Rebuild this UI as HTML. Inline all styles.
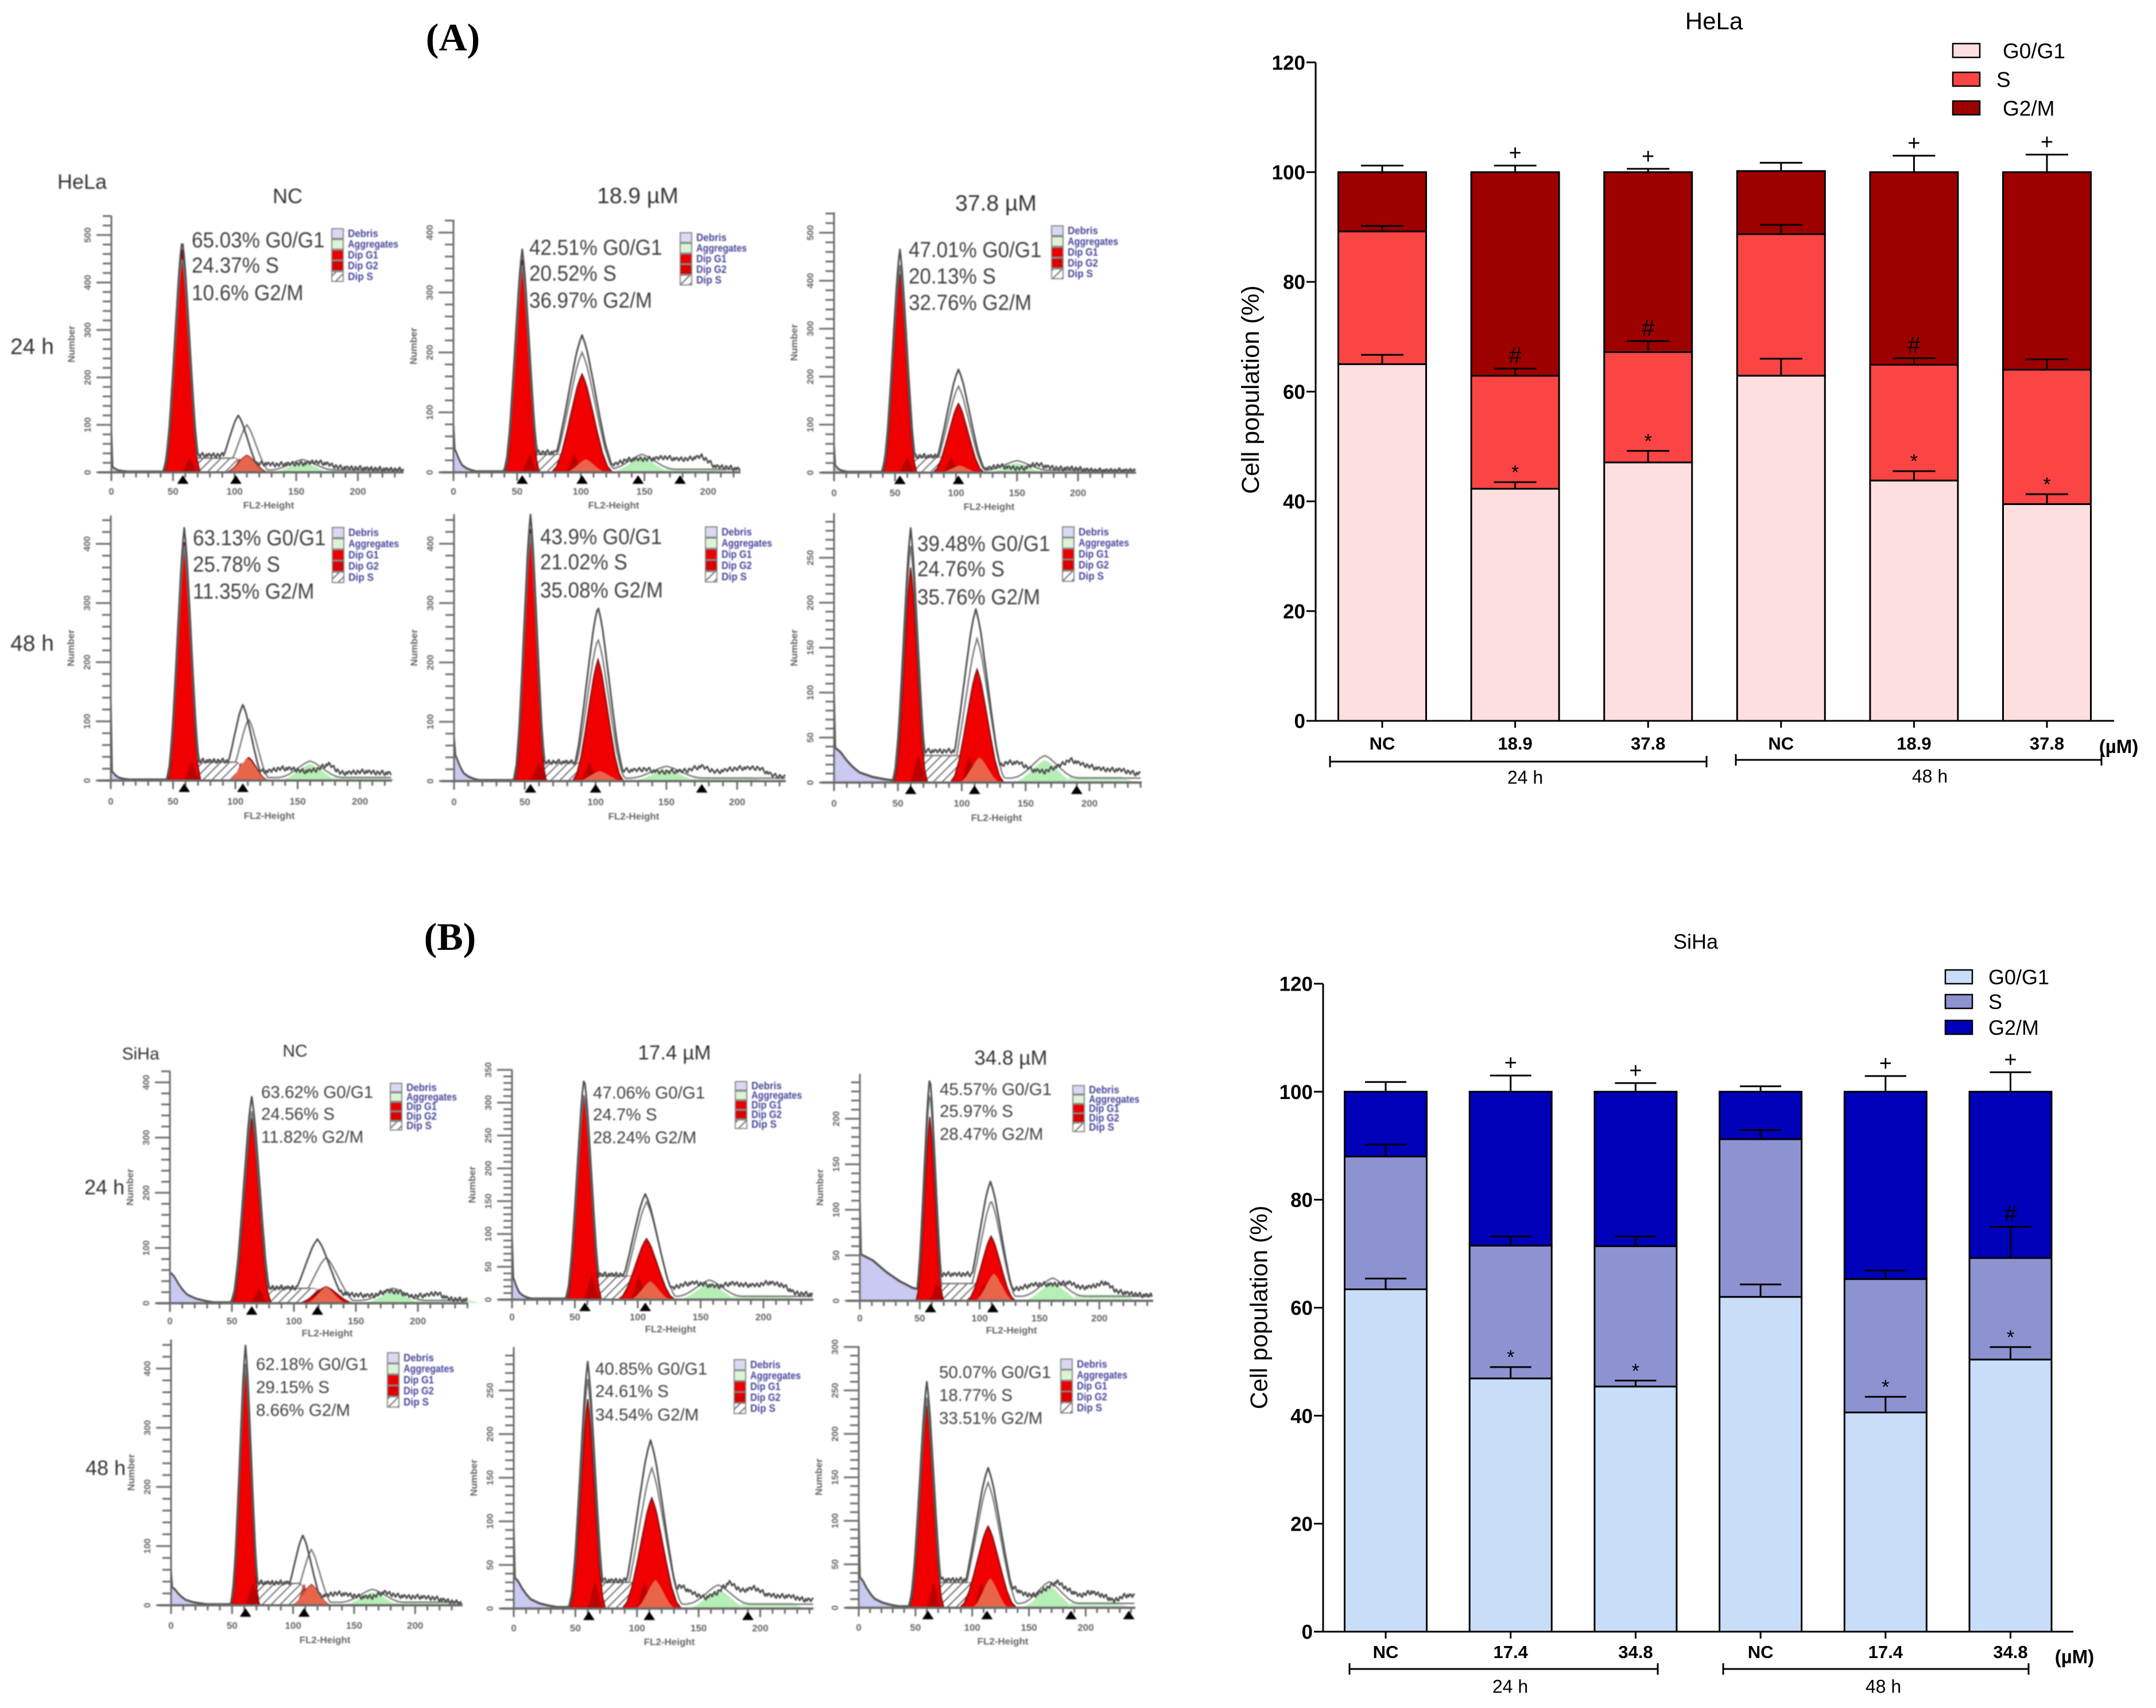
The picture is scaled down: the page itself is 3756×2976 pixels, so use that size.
<!DOCTYPE html>
<html lang="en">
<head>
<meta charset="utf-8">
<title>Cell cycle distribution of HeLa and SiHa cells</title>
<style>
html,body{margin:0;padding:0;background:#fff}
svg{display:block;font-family:"Liberation Sans",sans-serif}
.pct{font-size:35px;fill:#404040}
.pct2{font-size:29.5px;fill:#404040}
.hd{fill:#333}
</style>
</head>
<body>
<svg id="figure" xmlns="http://www.w3.org/2000/svg" width="3756" height="2976" viewBox="0 0 3756 2976">
<defs>
<pattern id="hatch" width="11" height="11" patternUnits="userSpaceOnUse" patternTransform="rotate(45)">
<rect width="11" height="11" fill="#fff"/><line x1="0" y1="0" x2="0" y2="11" stroke="#666" stroke-width="4"/>
</pattern>
</defs>
<rect width="3756" height="2976" fill="#fff"/>

<text x="789" y="88" text-anchor="middle" font-family="Liberation Serif" font-weight="bold" font-size="68">(A)</text>
<text x="784" y="1655" text-anchor="middle" font-family="Liberation Serif" font-weight="bold" font-size="68">(B)</text>

<g id="hist-layer" style="filter:blur(1.1px)">
<g class="hd">
<text x="143" y="329" text-anchor="middle" font-size="36">HeLa</text>
<text x="501" y="354" text-anchor="middle" font-size="36">NC</text>
<text x="1111" y="354" text-anchor="middle" font-size="39">18.9 µM</text>
<text x="1735" y="367" text-anchor="middle" font-size="39">37.8 µM</text>
<text x="56" y="617" text-anchor="middle" font-size="39">24 h</text>
<text x="56" y="1134" text-anchor="middle" font-size="39">48 h</text>
<text x="245" y="1846" text-anchor="middle" font-size="30">SiHa</text>
<text x="514" y="1841" text-anchor="middle" font-size="30">NC</text>
<text x="1175" y="1846" text-anchor="middle" font-size="35">17.4 µM</text>
<text x="1761" y="1855" text-anchor="middle" font-size="35">34.8 µM</text>
<text x="182" y="2081" text-anchor="middle" font-size="36">24 h</text>
<text x="184" y="2570" text-anchor="middle" font-size="36">48 h</text>
</g>
<g class="pct"><text x="334" y="431">65.03% G0/G1</text><text x="334" y="475">24.37% S</text><text x="334" y="523">10.6% G2/M</text></g>
<g class="pct"><text x="922" y="444">42.51% G0/G1</text><text x="922" y="489">20.52% S</text><text x="922" y="536">36.97% G2/M</text></g>
<g class="pct"><text x="1583" y="448">47.01% G0/G1</text><text x="1583" y="494">20.13% S</text><text x="1583" y="540">32.76% G2/M</text></g>
<g class="pct"><text x="336" y="950">63.13% G0/G1</text><text x="336" y="996">25.78% S</text><text x="336" y="1043">11.35% G2/M</text></g>
<g class="pct"><text x="941" y="948">43.9% G0/G1</text><text x="941" y="992">21.02% S</text><text x="941" y="1041">35.08% G2/M</text></g>
<g class="pct"><text x="1598" y="960">39.48% G0/G1</text><text x="1598" y="1004">24.76% S</text><text x="1598" y="1053">35.76% G2/M</text></g>
<g class="pct2"><text x="455" y="1913">63.62% G0/G1</text><text x="455" y="1951">24.56% S</text><text x="455" y="1991">11.82% G2/M</text></g>
<g class="pct2"><text x="1033" y="1914">47.06% G0/G1</text><text x="1033" y="1952">24.7% S</text><text x="1033" y="1992">28.24% G2/M</text></g>
<g class="pct2"><text x="1637" y="1908">45.57% G0/G1</text><text x="1637" y="1946">25.97% S</text><text x="1637" y="1986">28.47% G2/M</text></g>
<g class="pct2"><text x="446" y="2387">62.18% G0/G1</text><text x="446" y="2427">29.15% S</text><text x="446" y="2467">8.66% G2/M</text></g>
<g class="pct2"><text x="1037" y="2395">40.85% G0/G1</text><text x="1037" y="2434">24.61% S</text><text x="1037" y="2475">34.54% G2/M</text></g>
<g class="pct2"><text x="1636" y="2401">50.07% G0/G1</text><text x="1636" y="2441">18.77% S</text><text x="1636" y="2481">33.51% G2/M</text></g>
</g>
</svg>

<script>
/* ---------- stacked bar data: HeLa ---------- */
const helaCategories = ['NC','18.9','37.8','NC','18.9','37.8'];
const helaG0 = [65,42.3,47.1,62.9,43.8,39.5];
const helaS = [24.2,20.6,20.1,25.8,21.1,24.5];
const helaG2 = [10.8,37.1,32.8,11.5,35.1,36];
const helaErrG0 = [1.7,1.2,2.1,3.1,1.7,1.8];
const helaErrS = [1,1.3,2,1.7,1.2,1.9];
const helaErrG2 = [1.2,1.2,0.6,1.5,3,3.2];
const helaPlus = [0,1,1,0,1,1];
const helaHash = [0,1,1,0,1,0];
const helaStar = [0,1,1,0,1,1];
/* ---------- stacked bar data: SiHa ---------- */
const sihaCategories = ['NC','17.4','34.8','NC','17.4','34.8'];
const sihaG0 = [63.4,46.9,45.4,62,40.6,50.4];
const sihaS = [24.6,24.6,26,29.2,24.7,18.8];
const sihaG2 = [12,28.5,28.6,8.8,34.7,30.8];
const sihaErrG0 = [2,2.1,1.1,2.3,2.9,2.3];
const sihaErrS = [2.2,1.7,1.8,1.7,1.6,5.8];
const sihaErrG2 = [1.8,3,1.6,1,2.9,3.6];
const sihaPlus = [0,1,1,0,1,1];
const sihaHash = [0,0,0,0,0,1];
const sihaStar = [0,1,1,0,1,1];
const barTicks = [0,20,40,60,80,100,120];
const phaseNames = ['G0/G1','S','G2/M'];

/* ---------- histogram data (panels: HeLa 24h x3, HeLa 48h x3, SiHa 24h x3, SiHa 48h x3) ---------- */
const panelNames = ['hela-24h-nc','hela-24h-18-9','hela-24h-37-8','hela-48h-nc','hela-48h-18-9','hela-48h-37-8','siha-24h-nc','siha-24h-17-4','siha-24h-34-8','siha-48h-nc','siha-48h-17-4','siha-48h-34-8'];
const g1Center = [57.5,54,54,59,54,60,66,57.4,58.4,61,60,60];
const g1Height = [470,355,415,403,425,239,335,311,202,402,240,233];
const g1Outline = [492,372,465,427,449,283,374,339,247,439,283,260];
const g1Sd = [4.8,4.5,4.6,4.4,3.7,4.4,5.2,4.6,3.8,3.8,4.8,5];
const g2Center = [110,101,102,110.7,101.7,112,126,107,109.6,115,112,114];
const g2Height = [36,164,144,39,205,126,30,93,71,35,127,94];
const g2Sd = [5.8,8,7,5.3,6,7,7.6,7.6,6.8,5.4,8,8.4];
const g2OutlineCenter = [103,101,102,106,101.7,111,119,106,109,108,111,114];
const g2Outline = [120,229,215,128,294,193,116,161,131,118,193,161];
const g2Inner = [100,200,180,104,240,160,83,149,110,94,161,144];
const sPlateau = [30,30,32,31,31,30,27,36,19,37,30,29];
const sOutline = [36,33,34,33,32,35,28,38,29,38,32,32];
const overlapCenter = [110,104,103,110,103,114,126,110,112,115,115,116];
const overlapHeight = [36,22,15,38,17,28,30,28,30,35,33,34];
const aggCenter = [155,148,150,160,150,165,180,157,161,165,166,168];
const aggHeight = [22,25,20,28,20,25,22,25,20,22,22,25];
const debrisHeight = [10,40,15,15,45,38,55,35,50,30,35,35];
const debrisSpread = [0.3,0.35,0.25,0.3,0.35,1,0.7,0.3,2.2,0.6,0.7,0.7];
const spikeHeight = [92,81,60,140,75,100,55,100,110,60,95,110];
const markerPositions = [[58,101],[54,101,145,178],[54,102],[59,106],[54,100,175],[60,110,190],[66,119],[58,106],[59,111],[61,109],[61,110,190],[61,113,187,238]];
const tailX = [125,135,145,155,165,175,185,195,205,215,225,235];
const tailCounts = [
 [18,16,18,18,22,18,10,9,8,7,6,5],
 [12,20,22,22,25,22,22,27,10,8,5,3],
 [8,14,10,8,18,12,8,9,6,4,4,4],
 [15,20,20,15,18,28,12,14,15,13,12,10],
 [18,20,15,16,18,25,15,20,22,22,10,6],
 [15,22,22,14,12,18,25,20,16,14,14,10],
 [14,20,16,14,14,22,20,12,14,18,8,6],
 [16,22,26,22,20,25,22,22,26,22,10,8],
 [12,14,18,18,18,20,14,16,20,10,8,6],
 [16,20,18,14,14,22,16,14,14,12,8,4],
 [20,26,18,12,18,30,20,24,16,14,14,10],
 [20,24,16,14,22,30,20,14,18,14,8,14]
];
const outlineJitter = [2,-3,1,4,-2,-4,3,1,-3,2,5,-1,-4,2,-2,3];
const peakProfileZ = [0,0.25,0.5,1,1.5,2,2.5,3];
const peakProfileV = [1,0.94,0.86,0.64,0.41,0.2,0.06,0];
const debrisProfileX = [0,5,10,15,20,30,40,50];
const debrisProfileV = [1,0.85,0.6,0.4,0.25,0.12,0.05,0];
const histLegend = ['Debris','Aggregates','Dip G1','Dip G2','Dip S'];
const histXTicks = [0,50,100,150,200];

/* ---------- layout (separate from data) ---------- */
function panelLayout(i){
  return [
  {ox:194,sx:2.147,xEnd:703,y0:823,yTop:376,sy:0.827,step:100,t:33,l:57,lc:468,lx:578,ly:407,ldy:18.7,sh:17},
  {ox:790,sx:2.218,xEnd:1290,y0:823,yTop:383,sy:1.0445,step:100,t:33,l:57,lc:1069,lx:1185,ly:414,ldy:18.5,sh:17},
  {ox:1453,sx:2.125,xEnd:1979,y0:823.5,yTop:370,sy:0.836,step:100,t:35,l:59,lc:1723,lx:1832,ly:402,ldy:18.8,sh:17},
  {ox:193,sx:2.17,xEnd:683,y0:1360,yTop:898,sy:1.031,step:100,t:36,l:61,lc:469,lx:579,ly:928,ldy:19.5,sh:18},
  {ox:791,sx:2.466,xEnd:1369,y0:1361,yTop:896,sy:1.034,step:100,t:36,l:61,lc:1104,lx:1229,ly:927,ldy:19.5,sh:18},
  {ox:1453,sx:2.225,xEnd:1989,y0:1363.5,yTop:894,sy:1.567,step:50,t:36,l:61,lc:1736,lx:1851,ly:927,ldy:19.2,sh:18},
  {ox:296,sx:2.16,xEnd:815,y0:2270.7,yTop:1866,sy:0.962,step:100,t:31,l:52,lc:570,lx:680,ly:1895,ldy:16.6,sh:15},
  {ox:892,sx:2.19,xEnd:1417,y0:2264.5,yTop:1864,sy:1.144,step:50,t:30,l:51,lc:1168,lx:1281,ly:1892,ldy:16.7,sh:15},
  {ox:1498,sx:2.086,xEnd:2009,y0:2266.5,yTop:1871,sy:1.586,step:50,t:30,l:51,lc:1762,lx:1869,ly:1899,ldy:16.3,sh:15},
  {ox:298,sx:2.126,xEnd:806,y0:2797,yTop:2334,sy:1.031,step:100,t:35,l:60,lc:566,lx:675,ly:2366,ldy:19.2,sh:18},
  {ox:895,sx:2.147,xEnd:1417,y0:2802.7,yTop:2347,sy:1.52,step:50,t:34,l:58,lc:1166,lx:1279,ly:2378,ldy:19,sh:18},
  {ox:1496,sx:1.977,xEnd:1978,y0:2801.4,yTop:2345.6,sy:1.515,step:50,t:34,l:58,lc:1747,lx:1848,ly:2377,ldy:19,sh:18}
  ][i];
}

const NS = 'http://www.w3.org/2000/svg';
function el(tag, attrs, parent){
  const e = document.createElementNS(NS, tag);
  for (const k in attrs) e.setAttribute(k, attrs[k]);
  parent.appendChild(e);
  return e;
}
function lookup(xs, vs, x){
  if (x <= xs[0]) return vs[0];
  for (let i = 1; i < xs.length; i++) {
    if (x <= xs[i]) return vs[i-1] + (vs[i]-vs[i-1]) * (x-xs[i-1]) / (xs[i]-xs[i-1]);
  }
  return vs[vs.length-1];
}
function bump(x, c, h, sd){ return h * lookup(peakProfileZ, peakProfileV, Math.abs(x-c)/sd); }
function pts(list, xf, yf){ return list.map(p => xf(p[0]).toFixed(1)+','+yf(p[1]).toFixed(1)).join(' '); }
function bumpPoints(c, h, sd){
  const out = [];
  for (let z = -3; z <= 3.001; z += 0.25) out.push([c+z*sd, bump(c+z*sd, c, h, sd)]);
  return out;
}

/* ---------- histogram panels ---------- */
function drawPanel(i, root){
  const L = panelLayout(i);
  const X = v => L.ox + v*L.sx;
  const Y = v => L.y0 - v*L.sy;
  const g = el('g', {}, root);
  
  

  const spread = debrisSpread[i];
  const deb = [[0,0]];
  debrisProfileX.forEach((x,k)=>deb.push([x*spread, debrisHeight[i]*debrisProfileV[k]]));
  const debris = el('polygon', {points:pts(deb,X,Y), fill:'#c9c9f2'}, g);
  
  

  const agg = el('polygon', {points:pts(bumpPoints(aggCenter[i],aggHeight[i],8.5),X,Y), fill:'#b6efb6'}, g);
  
  
  const aggTail = el('polygon', {points:pts([[aggCenter[i]+15,0],[aggCenter[i]+20,7],[aggCenter[i]+60,7],[aggCenter[i]+70,0]],X,Y), fill:'#cdf2cd'}, g);
  
  

  const h = sPlateau[i], a = g1Center[i], b = g2Center[i];
  const sRegion = el('polygon', {points:pts([[a+3,0],[a+11,h],[b-9,h],[b+4,0]],X,Y), fill:'url(#hatch)', stroke:'#777', 'stroke-width':1.5}, g);
  
  

  const redG1 = el('polygon', {points:pts(bumpPoints(a,g1Height[i],g1Sd[i]),X,Y), fill:'#f00000', stroke:'#701010', 'stroke-width':2}, g);
  
  
  const redG2 = el('polygon', {points:pts(bumpPoints(b,g2Height[i],g2Sd[i]),X,Y), fill:'#f00000', stroke:'#701010', 'stroke-width':2}, g);
  
  

  const dark1 = el('polygon', {points:pts(bumpPoints(a+6,h,2.4),X,Y), fill:'#900', 'fill-opacity':0.6}, g);
  
  
  const dark2 = el('polygon', {points:pts(bumpPoints(b-6,h,2.4),X,Y), fill:'#900', 'fill-opacity':0.6}, g);
  
  
  const over = el('polygon', {points:pts(bumpPoints(overlapCenter[i],overlapHeight[i],5.6),X,Y), fill:'#e8654a'}, g);
  
  

  /* outlines */
  const xMax = (L.xEnd-L.ox)/L.sx;
  const outer = [[0,0],[0,spikeHeight[i]]], inner = [];
  for (let x = 1; x <= xMax; x += 1) {
    const deb2 = debrisHeight[i]*lookup(debrisProfileX,debrisProfileV,x/spread) + 2;
    const inValley = x > a+9 && x < b-4;
    const valley = inValley ? sOutline[i] : 0;
    const tailV = x > b ? lookup(tailX,tailCounts[i],x) : 0;
    const wobble = (x > a+9) ? outlineJitter[x % outlineJitter.length]*(1/L.sy)*0.9 : 0;
    const base = Math.max(valley, tailV, deb2);
    const pk = Math.max(bump(x,a,g1Outline[i],g1Sd[i]*1.08), bump(x,g2OutlineCenter[i],g2Outline[i],g2Sd[i]*1.15));
    const jag = pk > base*1.5 ? 0 : wobble;
    outer.push([x, Math.max(pk, base+jag, 1)]);
    const innerPk = Math.max(bump(x,a,g1Outline[i]*0.93,g1Sd[i]*1.05), bump(x,b,g2Inner[i],g2Sd[i]*1.12));
    const innerBase = Math.max(inValley ? sPlateau[i] : 0, x > b ? aggHeight[i]*lookup(peakProfileZ,peakProfileV,Math.abs(x-aggCenter[i])/8.5)+5 : 0, deb2-1);
    inner.push([x, Math.max(innerPk, innerBase)]);
  }
  const innerLine = el('polyline', {points:pts(inner,X,Y), fill:'none', stroke:'#777', 'stroke-width':2.5}, g);
  
  
  const outerLine = el('polyline', {points:pts(outer,X,Y), fill:'none', stroke:'#505050', 'stroke-width':3, 'stroke-linejoin':'round'}, g);
  
  

  /* axes */
  const axes = el('g', {stroke:'#6a6a6a', 'stroke-width':3}, g);
  
  
  el('line', {x1:L.ox, x2:L.ox, y1:L.yTop, y2:L.y0+14}, axes);
  el('line', {x1:L.ox-22, x2:L.xEnd, y1:L.y0, y2:L.y0, 'stroke-width':4}, axes);
  const yMax = (L.y0-L.yTop)/L.sy;
  for (let v = 0, n = 0; v <= yMax; v += L.step/5, n++) {
    const major = n % 5 === 0;
    el('line', {x1:L.ox-(major?26:15), x2:L.ox, y1:Y(v), y2:Y(v)}, axes);
    if (major) {
      const t = el('text', {x:0, y:0, transform:`translate(${L.ox-36},${Y(v)}) rotate(-90)`, 'text-anchor':'middle', 'font-size':16, 'font-weight':'bold', fill:'#666', stroke:'none'}, g);
      t.textContent = v;
      
      
    }
  }
  for (let v = 0, n = 0; v <= xMax; v += 10, n++) {
    const major = n % 5 === 0;
    el('line', {x1:X(v), x2:X(v), y1:L.y0, y2:L.y0+(major?15:9)}, axes);
  }
  histXTicks.forEach(v=>{
    if (X(v) > L.xEnd) return;
    const t = el('text', {x:X(v), y:L.y0+L.t+6, 'text-anchor':'middle', 'font-size':17, 'font-weight':'bold', fill:'#666'}, g);
    t.textContent = v;
    
    
  });
  const xt = el('text', {x:L.lc, y:L.y0+L.l+6, 'text-anchor':'middle', 'font-size':17, 'font-weight':'bold', fill:'#666'}, g);
  xt.textContent = 'FL2-Height';
  
  
  const yt = el('text', {x:0, y:0, transform:`translate(${L.ox-64},${(L.y0+L.yTop)/2}) rotate(-90)`, 'text-anchor':'middle', 'font-size':17, 'font-weight':'bold', fill:'#666'}, g);
  yt.textContent = 'Number';
  
  

  markerPositions[i].forEach(v=>{
    const m = el('polygon', {points:`${X(v)-10},${L.y0+20} ${X(v)+10},${L.y0+20} ${X(v)},${L.y0+5}`, fill:'#000'}, g);
    
    
  });

  /* legend */
  const swatches = ['#d9d9f5','#dcf3d6','#ea0000','#d80000','url(#hatch)'];
  histLegend.forEach((name,k)=>{
    const y = L.ly + k*L.ldy;
    const s = el('rect', {x:L.lx, y:y-L.sh/2, width:20, height:L.sh, fill:swatches[k], stroke:'#888', 'stroke-width':2}, g);
    
    
    const t = el('text', {x:L.lx+28, y:y+6, 'font-size':18, 'font-weight':'bold', fill:'#46469a', textLength:name.length*8.8, lengthAdjust:'spacingAndGlyphs'}, g);
    t.textContent = name;
    
    
  });
}

/* ---------- stacked bar charts ---------- */
function txt(parent, x, yc, str, fs, extra){
  const t = el('text', Object.assign({x:x, y:yc+0.36*fs, 'font-size':fs}, extra||{}), parent);
  t.textContent = str;
  return t;
}
function drawStack(c, cats, g0, s, g2, e0, eS, eG, plus, hash, star){
  const svg = document.getElementById('figure');
  const g = el('g', {}, svg);
  
  
  const Y = v => c.y0 - v*(c.y0-c.y120)/120;
  const X = i => c.x1 + i*c.step;

  cats.forEach((cat,i)=>{
    const tops = [g0[i], g0[i]+s[i], g0[i]+s[i]+g2[i]];
    const bottoms = [0, tops[0], tops[1]];
    const errs = [e0[i], eS[i], eG[i]];
    const nm = ['g0-g1','s','g2-m'];
    [0,1,2].forEach(k=>{
      const r = el('rect', {x:X(i)-c.bw/2, y:Y(tops[k]), width:c.bw, height:Y(bottoms[k])-Y(tops[k]), fill:c.colors[k], stroke:'#000', 'stroke-width':3}, g);
      
      
    });
    [0,1,2].forEach(k=>{
      const top = Y(tops[k]+errs[k]);
      const eb = el('path', {d:`M${X(i)} ${Y(tops[k])}V${top}M${X(i)-c.cap} ${top}H${X(i)+c.cap}`, fill:'none', stroke:'#000', 'stroke-width':3}, g);
      
      
    });
    if (plus[i]) {
      const m = txt(g, X(i), Y(tops[2]+errs[2])-23, '+', 38, {'text-anchor':'middle'});
      
      
    }
    if (hash[i]) {
      const m = txt(g, X(i), Y(tops[1]+errs[1])-24, '#', 40, {'text-anchor':'middle'});
      
      
    }
    if (star[i]) {
      const m = txt(g, X(i), Y(tops[0]+errs[0])-18-6, '*', 34, {'text-anchor':'middle','dy':6});
      
      
    }
    const tick = el('line', {x1:X(i), x2:X(i), y1:c.y0, y2:c.y0+12, stroke:'#000', 'stroke-width':3}, g);
    
    
    const lab = txt(g, X(i), c.catY, cat, 31, {'text-anchor':'middle','font-weight':'bold'});
    
    
  });

  const yAxis = el('line', {x1:c.ax, x2:c.ax, y1:c.y120, y2:c.y0+1.5, stroke:'#000', 'stroke-width':3}, g);
  
  
  const xAxis = el('line', {x1:c.ax, x2:c.xEnd, y1:c.y0, y2:c.y0, stroke:'#000', 'stroke-width':3}, g);
  
  
  barTicks.forEach(v=>{
    const t = el('line', {x1:c.ax-16, x2:c.ax, y1:Y(v), y2:Y(v), stroke:'#000', 'stroke-width':3}, g);
    
    
    const l = txt(g, c.ax-18, Y(v), v, 35, {'text-anchor':'end','font-weight':'bold'});
    
    
  });

  const title = txt(g, c.titleX, c.titleY, c.title, c.titleFs, {'text-anchor':'middle'});
  
  
  const yl = el('text', {x:0, y:0, transform:`translate(${c.ylX},${c.ylY}) rotate(-90)`, 'text-anchor':'middle', 'font-size':c.ylFs, 'dominant-baseline':'central'}, g);
  yl.textContent = 'Cell population (%)';
  
  
  const unit = txt(g, c.unitX, c.unitY, '(µM)', 33, {'text-anchor':'middle','font-weight':'bold'});
  
  

  c.brackets.forEach(b=>{
    const p = el('path', {d:`M${b.a} ${b.y-10}V${b.y+10}M${b.a} ${b.y}H${b.b}M${b.b} ${b.y-10}V${b.y+10}`, fill:'none', stroke:'#000', 'stroke-width':3}, g);
    
    
    const t = txt(g, b.lx, b.ly, b.label, 32, {'text-anchor':'middle'});
    
    
  });

  phaseNames.forEach((name,k)=>{
    const sw = el('rect', {x:c.legX, y:c.legY[k]-12, width:c.legW, height:24, fill:c.colors[k], stroke:'#000', 'stroke-width':2.5}, g);
    
    
    const t = txt(g, c.legTx[k], c.legY[k], name, c.legFs, {});
    
    
  });
}

const histRoot = document.getElementById('hist-layer');
panelNames.forEach((_,i)=>drawPanel(i, histRoot));

/* HeLa percentages are taller but no wider in the reference: grow the glyphs, keep the width */
document.querySelectorAll('.pct text').forEach(t=>{
  const w = t.getComputedTextLength();
  t.setAttribute('textLength', w.toFixed(1));
  t.setAttribute('lengthAdjust', 'spacingAndGlyphs');
  t.style.fontSize = '38px';
});

drawStack({id:'hela', title:'HeLa', titleX:2986, titleY:36, titleFs:42,
  ax:2292, xEnd:3683, y0:1256, y120:108.7, x1:2408, step:231.6, bw:153, cap:37, catY:1295,
  colors:['#fddfe0','#fb4444','#9e0000'],
  ylX:2179, ylY:679, ylFs:43, unitX:3691, unitY:1300,
  brackets:[{a:2317,b:2973,y:1327,lx:2657,ly:1354,label:'24 h'},{a:3024,b:3661,y:1324,lx:3362,ly:1352,label:'48 h'}],
  legX:3402, legW:47, legY:[88,138,188], legTx:[3489,3478,3489], legFs:37
}, helaCategories, helaG0, helaS, helaG2, helaErrG0, helaErrS, helaErrG2, helaPlus, helaHash, helaStar);

drawStack({id:'siha', title:'SiHa', titleX:2954, titleY:1640, titleFs:36,
  ax:2305, xEnd:3612, y0:2843, y120:1714, x1:2414, step:217.7, bw:143, cap:36, catY:2878,
  colors:['#c8ddf8','#8d92d0','#0000b8'],
  ylX:2193, ylY:2278, ylFs:42, unitX:3614, unitY:2886,
  brackets:[{a:2351,b:2888,y:2908,lx:2631,ly:2938,label:'24 h'},{a:3002,b:3534,y:2908,lx:3281,ly:2938,label:'48 h'}],
  legX:3389, legW:47, legY:[1702,1745,1790], legTx:[3464,3464,3464], legFs:36
}, sihaCategories, sihaG0, sihaS, sihaG2, sihaErrG0, sihaErrS, sihaErrG2, sihaPlus, sihaHash, sihaStar);
</script>
</body>
</html>
